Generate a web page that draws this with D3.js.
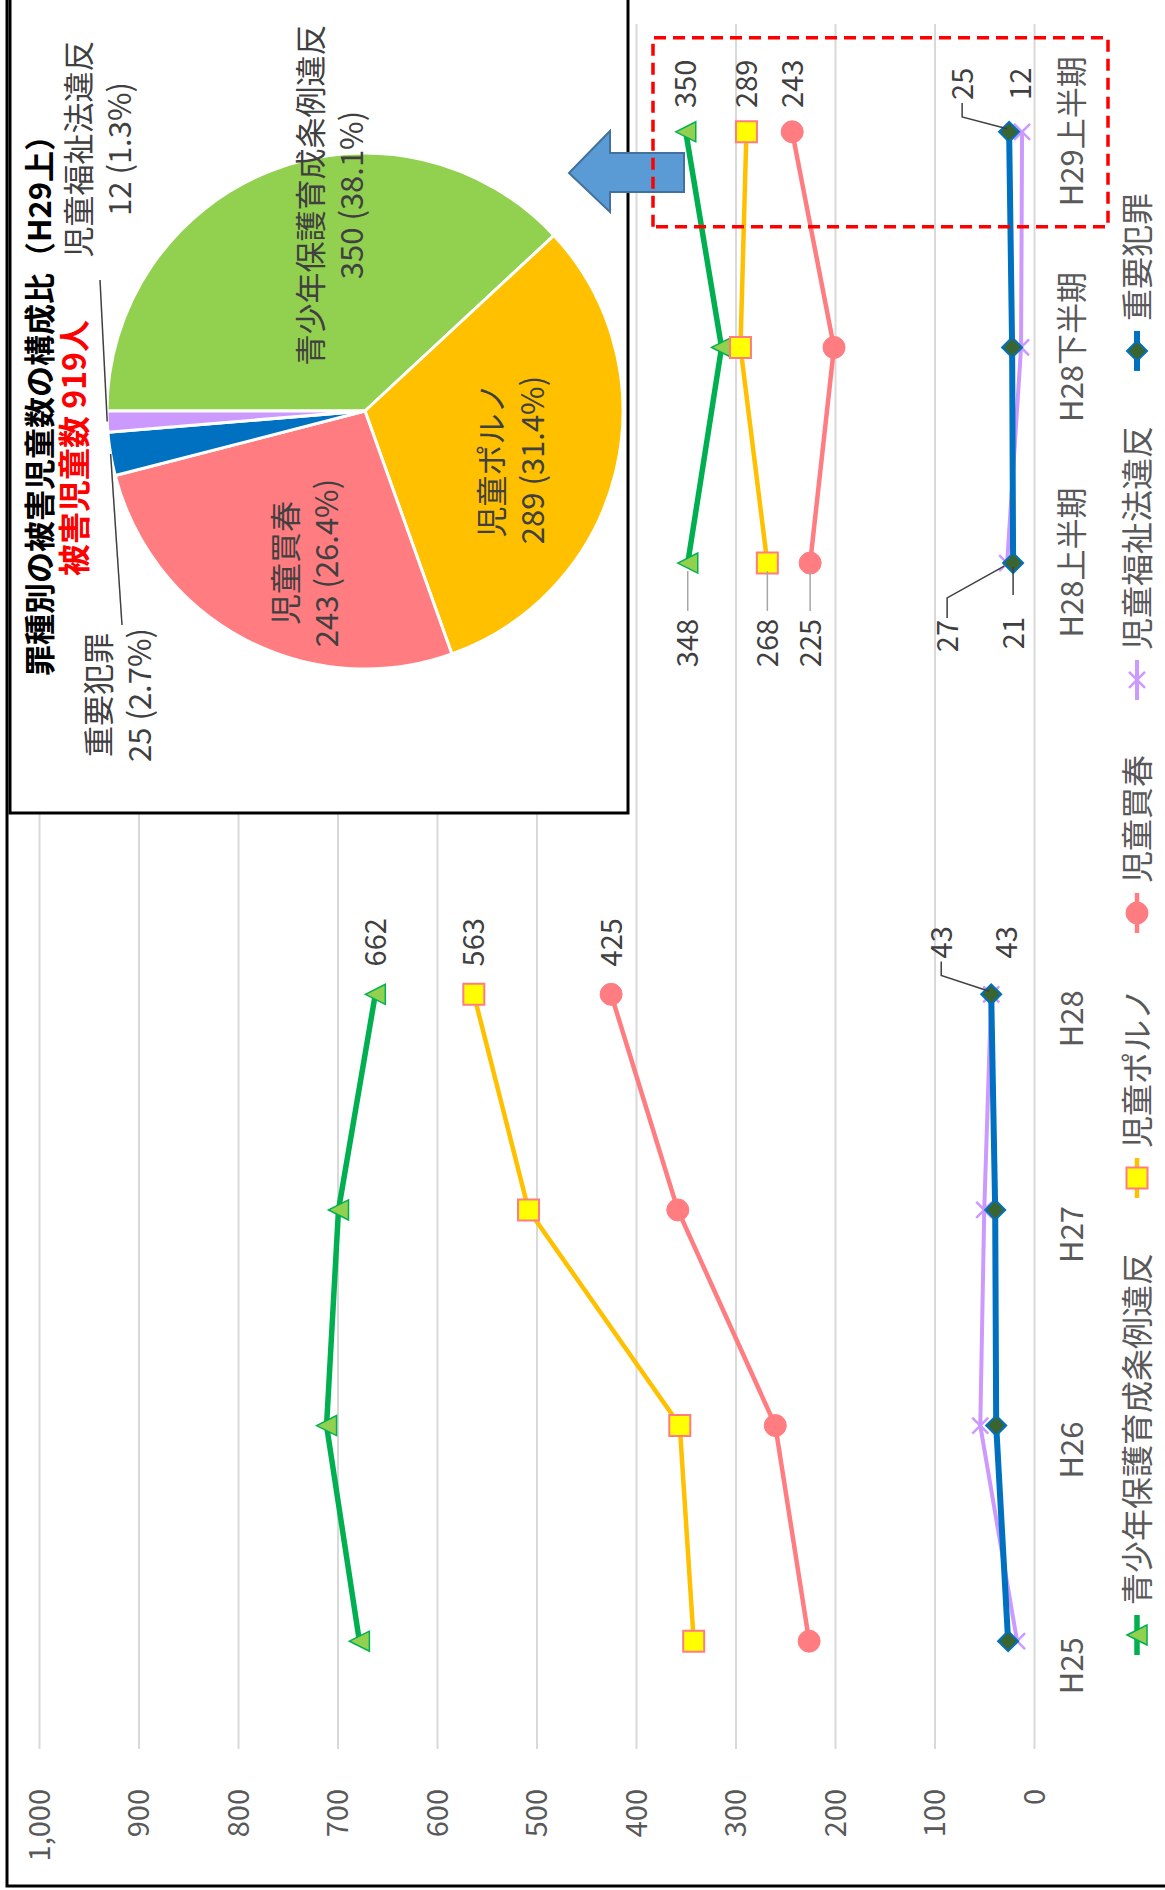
<!DOCTYPE html>
<html>
<head>
<meta charset="utf-8">
<script src="https://cdn.jsdelivr.net/npm/d3@7"></script>
<style>
  body { margin: 0; background: #fff; }
  svg { display: block; }
  text { font-family: "Noto Sans CJK JP", "Noto Sans", sans-serif; }
</style>
</head>
<body>
<svg id="chart" width="1165" height="1890"></svg>
<script>
// ---- data -------------------------------------------------------------
const periods = ["H25", "H26", "H27", "H28", "", "H28上半期", "H28下半期", "H29上半期"];
const seriesNames = ["青少年保護育成条例違反", "児童ポルノ", "児童買春", "児童福祉法違反", "重要犯罪"];
const youthOrdinance    = [678, 711, 699, 662, null, 348, 314, 350];
const childPornography  = [342, 356, 508, 563, null, 268, 295, 289];
const childProstitution = [226, 260, 358, 425, null, 225, 201, 243];
const childWelfareAct   = [17, 54, 50, 43, null, 27, 13, 12];
const seriousCrime      = [26, 38, 39, 43, null, 21, 22, 25];
const valueTicks = [0, 100, 200, 300, 400, 500, 600, 700, 800, 900, 1000];
const labelledPeriods = ["H28", "H28上半期", "H29上半期"];

const pieNames  = ["青少年保護育成条例違反", "児童ポルノ", "児童買春", "重要犯罪", "児童福祉法違反"];
const pieValues = [350, 289, 243, 25, 12];
const pieTitle = "罪種別の被害児童数の構成比（H29上）";
const pieTotalLabel = "被害児童数";
const pieTotalUnit = "人";

// ---- layout (landscape chart, turned a quarter-turn onto the page) ---
const W = 1890, H = 1165;
const svg = d3.select("#chart");
const g = svg.append("g").attr("transform", `translate(0,${W}) rotate(-90)`);

const FONT = '"Noto Sans CJK JP", "Noto Sans", sans-serif';
const TXT = "#404040";

function txt(parent, x, y, s, size, o = {}) {
  return parent.append("text")
    .attr("x", x).attr("y", y).attr("dy", o.dy || "0.36em")
    .attr("text-anchor", o.anchor || "middle")
    .attr("font-size", size)
    .attr("font-weight", o.weight || "normal")
    .attr("fill", o.fill || TXT)
    .text(s);
}

// chart frame
g.append("rect").attr("x", 4).attr("y", 7).attr("width", W + 40).attr("height", H + 40)
  .attr("fill", "#fff").attr("stroke", "#000").attr("stroke-width", 3);

const plot = { left: 141, right: 1866, top: 39, bottom: 1034 };
const x = d3.scalePoint().domain(d3.range(periods.length)).range([plot.left, plot.right]).padding(0.5);
const y = d3.scaleLinear().domain([0, 1000]).range([plot.bottom, plot.top]);

// value axis + gridlines
const yAxis = d3.axisLeft(y).tickValues(valueTicks)
  .tickSize(-(plot.right - plot.left)).tickPadding(40).tickFormat(d3.format(","));
const gy = g.append("g").attr("transform", `translate(${plot.left},0)`).call(yAxis)
  .attr("font-family", FONT).attr("font-size", 29);
gy.select(".domain").remove();
gy.selectAll(".tick line").attr("stroke", "#D9D9D9").attr("stroke-width", 2);
gy.selectAll(".tick text").attr("fill", "#595959").attr("dy", "0.36em");

// category axis
const xAxis = d3.axisBottom(x).tickSize(0).tickFormat(i => periods[i]);
const gx = g.append("g").attr("transform", `translate(0,${plot.bottom})`).call(xAxis)
  .attr("font-family", FONT).attr("font-size", 31);
gx.select(".domain").remove();
gx.selectAll(".tick text")
  .attr("y", 38).attr("dy", "0.36em").attr("fill", "#595959")
  .attr("dx", i => periods[i].includes("期") ? 0 : -25);

// ---- series ----------------------------------------------------------
const series = [
  { name: seriesNames[0], values: youthOrdinance,    color: "#00B050", width: 5.5, marker: "triangle", size: 20, fill: "#92D050", stroke: "#00B050", sw: 1.5 },
  { name: seriesNames[1], values: childPornography,  color: "#FFC000", width: 4.5, marker: "square",   size: 21, fill: "#FFFF00", stroke: "#FF7C80", sw: 2 },
  { name: seriesNames[2], values: childProstitution, color: "#FF7C80", width: 4.5, marker: "circle",   size: 22, fill: "#FF7C80", stroke: "#FF7C80", sw: 1 },
  { name: seriesNames[3], values: childWelfareAct,   color: "#CC99FF", width: 4,   marker: "cross",    size: 16, fill: "none",    stroke: "#CC99FF", sw: 2.5 },
  { name: seriesNames[4], values: seriousCrime,      color: "#0070C0", width: 6,   marker: "diamond",  size: 20, fill: "#3A6530", stroke: "#0070C0", sw: 2 }
];

function markerPath(type, s) {
  const h = s / 2;
  switch (type) {
    case "triangle": return `M0,${-h}L${h},${h}L${-h},${h}Z`;
    case "square":   return `M${-h},${-h}H${h}V${h}H${-h}Z`;
    case "circle":   return `M${h},0A${h},${h} 0 1,1 ${-h},0A${h},${h} 0 1,1 ${h},0Z`;
    case "diamond":  return `M0,${-h}L${h},0L0,${h}L${-h},0Z`;
    case "cross":    return `M${-h},${-h}L${h},${h}M${h},${-h}L${-h},${h}`;
  }
}

const line = d3.line().defined(d => d.v != null).x(d => x(d.i)).y(d => y(d.v));

// pie inset box (drawn before the series so lines stay visible)
const box = { x0: 1077, y0: 10, x1: W + 20, y1: 628 };
g.append("rect").attr("x", box.x0).attr("y", box.y0)
  .attr("width", box.x1 - box.x0).attr("height", box.y1 - box.y0)
  .attr("fill", "#fff").attr("stroke", "#000").attr("stroke-width", 3);

series.forEach(s => {
  const pts = s.values.map((v, i) => ({ i, v }));
  g.append("path").datum(pts).attr("d", line)
    .attr("fill", "none").attr("stroke", s.color).attr("stroke-width", s.width)
    .attr("stroke-linejoin", "round");
  g.selectAll(null).data(pts.filter(d => d.v != null)).enter().append("path")
    .attr("transform", d => `translate(${x(d.i)},${y(d.v)})`)
    .attr("d", markerPath(s.marker, s.size))
    .attr("fill", s.fill).attr("stroke", s.stroke).attr("stroke-width", s.sw);
});

// ---- data labels -------------------------------------------------------
// horizontal side of each labelled period, and special placements for the two small series
const labelSide = { "H28": 52, "H28上半期": -80, "H29上半期": 48 };
const labelShift = {
  "重要犯罪|H28": { dy: -50, leader: "bent" },
  "児童福祉法違反|H28": { dy: 15 },
  "重要犯罪|H29上半期": { dy: -47, leader: "bent" },
  "児童福祉法違反|H29上半期": { dy: -2 },
  "児童福祉法違反|H28上半期": { dx: -73, dy: -60, leader: "bent" },
  "重要犯罪|H28上半期": { dx: -70, leader: "dark" }
};
const dataLabelGroup = g.append("g");
series.forEach(s => {
  labelledPeriods.forEach(p => {
    const i = periods.indexOf(p);
    const v = s.values[i];
    const px = x(i), py = y(v);
    const sh = labelShift[s.name + "|" + p] || {};
    const dx = sh.dx != null ? sh.dx : labelSide[p];
    const lx = px + dx, ly = py + (sh.dy || 0);
    const t = txt(dataLabelGroup, lx, ly, v, 29);
    const w = t.node().getComputedTextLength();
    const left = lx - w / 2, right = lx + w / 2;
    if (sh.leader === "bent") {
      const pts = dx > 0
        ? [[left - 3, ly], [left - 17, ly], [px + 3, py - 2]]
        : [[right + 2, ly], [right + 22, ly], [px - 3, py - 3]];
      dataLabelGroup.append("path").attr("d", d3.line()(pts))
        .attr("fill", "none").attr("stroke", "#404040").attr("stroke-width", 1.5);
    } else if (sh.leader === "dark") {
      dataLabelGroup.append("line").attr("x1", px - 4).attr("x2", px - 32).attr("y1", py).attr("y2", py)
        .attr("stroke", "#404040").attr("stroke-width", 1.5);
    } else if (dx < 0) {
      dataLabelGroup.append("line").attr("x1", px - 8).attr("x2", right + 8).attr("y1", py).attr("y2", py)
        .attr("stroke", "#A6A6A6").attr("stroke-width", 1.5);
    }
  });
});

// ---- legend ------------------------------------------------------------
const legendY = 1137;
let mx = 255;
series.forEach(s => {
  g.append("line").attr("x1", mx - 20).attr("x2", mx + 20).attr("y1", legendY).attr("y2", legendY)
    .attr("stroke", s.color).attr("stroke-width", s.width);
  g.append("path").attr("transform", `translate(${mx},${legendY})`)
    .attr("d", markerPath(s.marker, s.size))
    .attr("fill", s.fill).attr("stroke", s.stroke).attr("stroke-width", s.sw);
  const t = txt(g, mx + 30, legendY, s.name, 32, { anchor: "start", fill: "#595959" });
  mx += 30 + t.node().getComputedTextLength() + 75;
});

// ---- pie inset -----------------------------------------------------------
const pieColors = ["#92D050", "#FFC000", "#FF7C80", "#0070C0", "#CC99FF"];
const total = d3.sum(pieValues);
const pc = { x: 1479, y: 365 }, R = 258;
const arcs = d3.pie().sort(null).value(d => d)(pieValues);
const arc = d3.arc().innerRadius(0).outerRadius(R);
const gp = g.append("g").attr("transform", `translate(${pc.x},${pc.y})`);
gp.selectAll("path").data(arcs).enter().append("path")
  .attr("d", arc).attr("fill", (d, i) => pieColors[i])
  .attr("stroke", "#fff").attr("stroke-width", 3).attr("stroke-linejoin", "round");

// label placement relative to the pie centre
const pieLabelPos = [
  { dx: 216, dy: -34 },
  { dx: -49, dy: 147 },
  { dx: -152, dy: -59 },
  { dx: -284, dy: -246, leaderTo: [-214, -243] },
  { dx: 262, dy: -266, leaderTo: [131, -265] }
];
const pctFmt = d3.format(".1f");
arcs.forEach((a, i) => {
  const p = pieLabelPos[i];
  txt(gp, p.dx, p.dy - 20, pieNames[i], 31);
  txt(gp, p.dx, p.dy + 21, `${pieValues[i]} (${pctFmt(pieValues[i] / total * 100)}%)`, 31);
  if (p.leaderTo) {
    const mid = (a.startAngle + a.endAngle) / 2;
    gp.append("line")
      .attr("x1", R * Math.sin(mid)).attr("y1", -R * Math.cos(mid))
      .attr("x2", p.leaderTo[0]).attr("y2", p.leaderTo[1])
      .attr("stroke", "#404040").attr("stroke-width", 1.5);
  }
});

// titles
txt(g, 1492, 40, pieTitle, 31, { weight: "bold", fill: "#000" });
txt(g, 1442, 74, `${pieTotalLabel} ${total}${pieTotalUnit}`, 32, { weight: "bold", fill: "#FF0000" });

// ---- callout: arrow from the highlighted period to the pie -------------
const tip = { x: 1717, y: 569 };
const arrow = [
  [tip.x, tip.y], [tip.x + 42, tip.y + 41], [tip.x + 20, tip.y + 41], [tip.x + 20, tip.y + 115],
  [tip.x - 19, tip.y + 115], [tip.x - 19, tip.y + 41], [tip.x - 39, tip.y + 41]
];
g.append("path").attr("d", d3.line()(arrow) + "Z")
  .attr("fill", "#5B9BD5").attr("stroke", "#41719C").attr("stroke-width", 2);

// highlight around the latest period
const hl = { x: x(7) - 95, y: 653, w: 189, h: 455 };
g.append("rect").attr("x", hl.x).attr("y", hl.y).attr("width", hl.w).attr("height", hl.h)
  .attr("fill", "none").attr("stroke", "#FF0000").attr("stroke-width", 3.5)
  .attr("stroke-dasharray", "12,7");
</script>
</body>
</html>
